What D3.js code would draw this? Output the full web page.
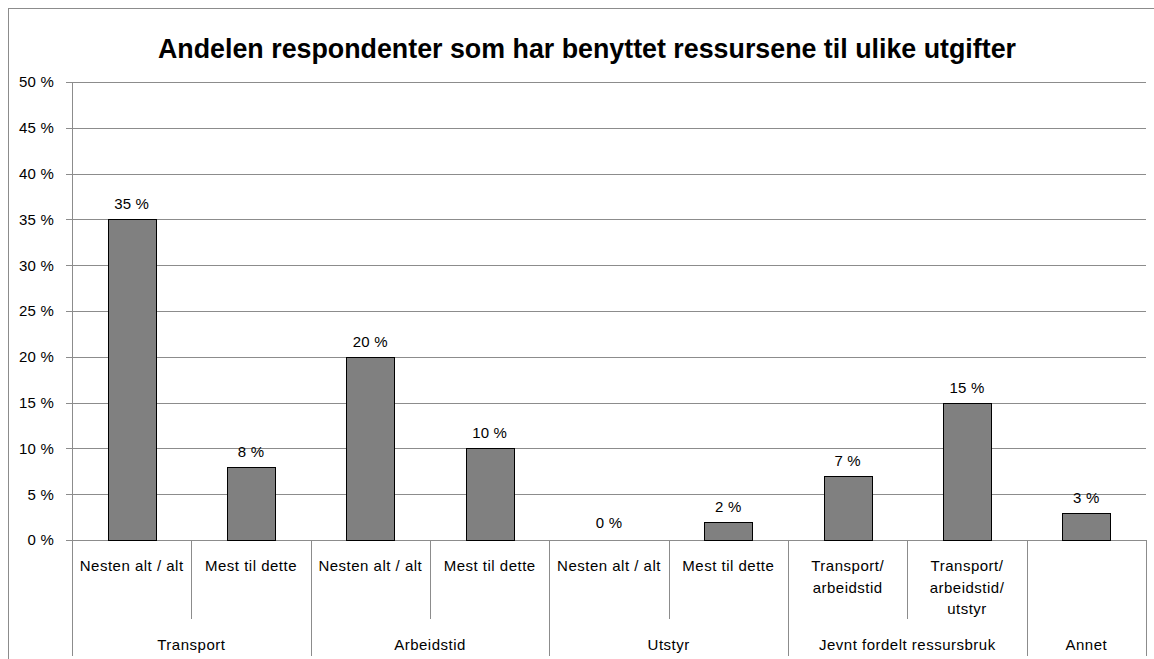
<!DOCTYPE html>
<html><head><meta charset="utf-8">
<script src="https://cdn.jsdelivr.net/npm/d3@7"></script>
<style>body{margin:0;background:#fff}svg{display:block}text{font-family:"Liberation Sans",Arial,sans-serif}</style>
</head><body><svg id="c" width="1154" height="659"></svg>
<script>
const categories = ["Nesten alt / alt","Mest til dette","Nesten alt / alt","Mest til dette","Nesten alt / alt","Mest til dette","Transport/\narbeidstid","Transport/\narbeidstid/\nutstyr",""];
const groups = ["Transport","Arbeidstid","Utstyr","Jevnt fordelt ressursbruk","Annet"];
const groupSizes = [2,2,2,2,1];
const values = [35,8,20,10,0,2,7,15,3];
const yTicks = [0,5,10,15,20,25,30,35,40,45,50];
const title = "Andelen respondenter som har benyttet ressursene til ulike utgifter";

const svg = d3.select("#c");
const L=72,R=1146,T=82,B=540;
const ids = categories.map((d,i)=>i);
const x = d3.scaleBand().domain(ids).range([L,R]).paddingInner(0).paddingOuter(0);
const y = d3.scaleLinear().domain([0,50]).range([B,T]);
const grid="#8c8c8c";

// outer border
svg.append("rect").attr("x",8.5).attr("y",8.5).attr("width",1150).attr("height",660).attr("fill","none").attr("stroke",grid).attr("stroke-width",1);

// title
svg.append("text").attr("x",587).attr("y",58).attr("text-anchor","middle").attr("font-size",27).attr("font-weight","bold")
  .attr("textLength",858).attr("lengthAdjust","spacingAndGlyphs").attr("fill","#000").text(title);

// gridlines
svg.append("g").selectAll("line").data(yTicks).join("line")
  .attr("x1",L-6).attr("x2",R).attr("y1",d=>Math.round(y(d))+0.5).attr("y2",d=>Math.round(y(d))+0.5)
  .attr("stroke",grid).attr("stroke-width",1);

// y axis
const yAxis = d3.axisLeft(y).tickValues(yTicks).tickFormat(d=>d+" %").tickSize(0).tickPadding(18);
const ya = svg.append("g").attr("transform",`translate(${L},0)`).call(yAxis);
ya.select(".domain").remove();
ya.selectAll("text").attr("font-size",15).attr("fill","#000").attr("font-family","Liberation Sans, Arial, sans-serif").attr("letter-spacing","0.2px");
svg.append("line").attr("x1",L+0.5).attr("x2",L+0.5).attr("y1",T).attr("y2",656).attr("stroke",grid);

// bars
svg.append("g").selectAll("rect").data(values).join("rect")
  .attr("x",(d,i)=>Math.round(x(i)+x.bandwidth()*0.3)+0.5)
  .attr("width",Math.round(x.bandwidth()*0.4))
  .attr("y",d=>Math.round(y(d))+0.5)
  .attr("height",d=>Math.round(B-y(d)))
  .attr("fill","#808080").attr("stroke","#000").attr("stroke-width",1)
  .style("display",d=>d===0?"none":null);

// value labels
svg.append("g").selectAll("text").data(values).join("text")
  .attr("x",(d,i)=>x(i)+x.bandwidth()/2)
  .attr("y",d=>y(d)-(d===0?12:10))
  .attr("text-anchor","middle").attr("font-size",15).attr("letter-spacing","0.2px").attr("fill","#000")
  .text(d=>d+" %");

// category separators
const groupStarts=[];let acc=0;groupSizes.forEach(s=>{groupStarts.push(acc);acc+=s;});
ids.forEach(i=>{
  if(i===0) return;
  const isGroup = groupStarts.includes(i);
  svg.append("line").attr("x1",Math.round(x(i))+0.5).attr("x2",Math.round(x(i))+0.5)
    .attr("y1",B).attr("y2",isGroup?656:619).attr("stroke",grid);
});
svg.append("line").attr("x1",R+0.5).attr("x2",R+0.5).attr("y1",B).attr("y2",656).attr("stroke",grid);

// category labels
categories.forEach((c,i)=>{
  const t=svg.append("text").attr("x",x(i)+x.bandwidth()/2).attr("y",571).attr("text-anchor","middle")
    .attr("font-size",15).attr("letter-spacing","0.5px").attr("fill","#000");
  c.split("\n").forEach((ln,k)=>t.append("tspan").attr("x",x(i)+x.bandwidth()/2).attr("dy",k===0?0:21.5).text(ln));
});

// group labels
groups.forEach((g,gi)=>{
  const s=groupStarts[gi], n=groupSizes[gi];
  const cx=(x(s)+x(s+n-1)+x.bandwidth())/2;
  svg.append("text").attr("x",cx).attr("y",650).attr("text-anchor","middle").attr("font-size",15).attr("letter-spacing","0.5px").attr("fill","#000").text(g);
});
</script></body></html>
